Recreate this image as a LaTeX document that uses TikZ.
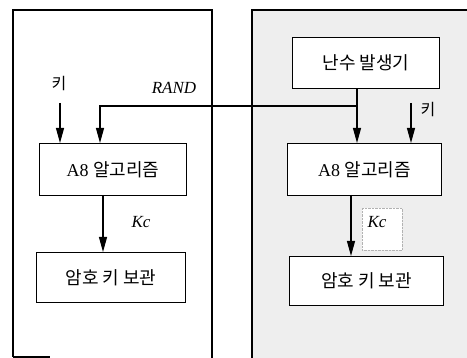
\documentclass[tikz,border=0pt]{standalone}
\usepackage{fontspec}
\setmainfont{Liberation Serif}
\newfontfamily\kr{Noto Sans CJK KR}
\usetikzlibrary{arrows.meta}
\tikzset{
  blk/.style={draw=black, line width=1.2pt, fill=white, inner sep=0pt, anchor=north west},
  arr/.style={line width=1.1pt, -{Triangle[length=15pt,width=8pt]}},
  wire/.style={line width=1.1pt},
  lbl/.style={font=\fontsize{17}{19}\selectfont\itshape, inner sep=1pt},
  klbl/.style={font=\kr\fontsize{16}{18}\selectfont, inner sep=1pt},
  btxt/.style={font=\fontsize{18}{20}\selectfont}
}
\begin{document}
\begin{tikzpicture}[x=1pt,y=-1pt]
\useasboundingbox (0,0) rectangle (467,358);
% right panel (shaded)
\fill[gray!13] (252,10) rectangle (467,358);
\draw[line width=1.1pt] (252,358) -- (252,10) -- (467,10);
% left panel
\draw[line width=1.1pt] (13,357) -- (13,10) -- (212,10) -- (212,358);
\draw[line width=1.1pt] (13,357) -- (50,357);

% left boxes
\node[blk, minimum width=147pt, minimum height=52pt] (la8) at (39,143) {};
\node[btxt] at (la8.center) {A8 {\kr 알고리즘}};
\node[blk, minimum width=149pt, minimum height=50pt] (lst) at (36,252) {};
\node[btxt] at (lst.center) {\kr 암호 키 보관};

% right boxes
\node[blk, minimum width=147pt, minimum height=51pt] (rng) at (292,37) {};
\node[btxt] at (rng.center) {\kr 난수 발생기};
\node[blk, minimum width=154pt, minimum height=52pt] (ra8) at (287,143) {};
\node[btxt] at (ra8.center) {A8 {\kr 알고리즘}};
\node[blk, minimum width=154pt, minimum height=49pt] (rst) at (289,256) {};
\node[btxt] at (rst.center) {\kr 암호 키 보관};

% left key arrow
\coordinate (lk) at (60,103);
\node[klbl] (lkl) at (59,84) {키};
\draw[arr] (lk) -- (la8.north west -| lk);
% RAND path
\coordinate (rj) at (357,106);
\coordinate (lr) at (100,106);
\draw[wire] (rng.south -| rj) -- (rj);
\draw[arr] (rj) -- (ra8.north -| rj);
\draw[arr] (rj) -- (lr) -- (la8.north -| lr);
\node[lbl] (randl) at (174,88) {RAND};
% right key arrow
\coordinate (rk) at (411,103);
\node[klbl] (rkl) at (428,110) {키};
\draw[arr] (rk) -- (ra8.north -| rk);
% Kc arrows
\coordinate (lkc) at (103,195);
\draw[arr] (lkc) -- (lst.north -| lkc);
\node[lbl] (lkcl) at (141,222) {Kc};
\coordinate (rkc) at (351,195);
\draw[arr] (rkc) -- (rst.north -| rkc);
\node[draw=gray!60, densely dotted, fill=white, minimum width=40pt, minimum height=42pt, anchor=north west] (kcbg) at (362,208) {};
\node[lbl] (rkcl) at (377,222) {Kc};
\end{tikzpicture}
\end{document}
